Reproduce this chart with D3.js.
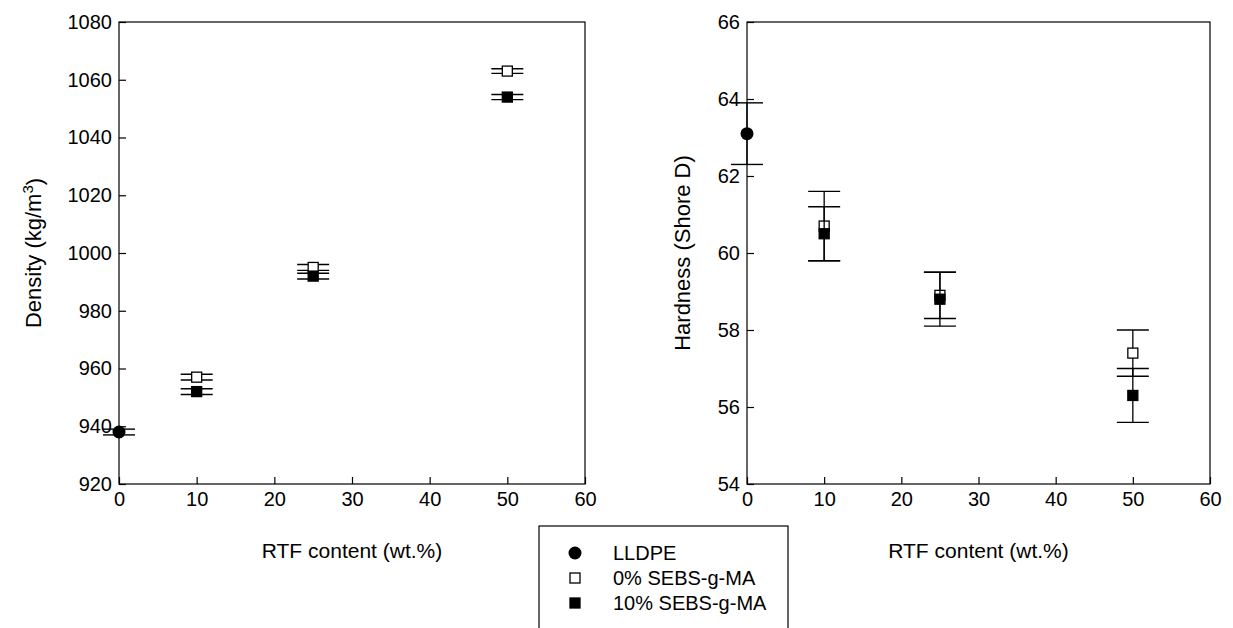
<!DOCTYPE html>
<html><head><meta charset="utf-8">
<script src="https://cdn.jsdelivr.net/npm/d3@7"></script>
<style>body{margin:0;background:#fff}svg{font-family:"Liberation Sans",Arial,sans-serif}</style>
</head><body>
<svg id="c" width="1233" height="628"></svg>
<script>
// Data
const seriesNames = ["LLDPE", "0% SEBS-g-MA", "10% SEBS-g-MA"];
const xTicks = [0, 10, 20, 30, 40, 50, 60];
const densityTicks = [920, 940, 960, 980, 1000, 1020, 1040, 1060, 1080];
const hardnessTicks = [54, 56, 58, 60, 62, 64, 66];

// density: [x, value, error]
const densityLLDPE = [[0, 938, 1.0]];
const density0 = [[10, 957, 1.0], [25, 995, 1.0], [50, 1063, 0.8]];
const density10 = [[10, 952, 1.0], [25, 992, 1.0], [50, 1054, 0.9]];

const hardnessLLDPE = [[0, 63.1, 0.8]];
const hardness0 = [[10, 60.7, 0.9], [25, 58.9, 0.6], [50, 57.4, 0.6]];
const hardness10 = [[10, 60.5, 0.7], [25, 58.8, 0.7], [50, 56.3, 0.7]];

const svg = d3.select("#c");
const FS = 20, TS = 21, YS = 22;

function panel(opts) {
  const {x0, x1, yTop, yBot, ydom, yticks, ylabel, ylabelX, sets} = opts;
  const x = d3.scaleLinear().domain([0, 60]).range([x0, x1]);
  const y = d3.scaleLinear().domain(ydom).range([yBot, yTop]);
  const g = svg.append("g");
  g.append("rect").attr("x", x0).attr("y", yTop).attr("width", x1 - x0).attr("height", yBot - yTop)
    .attr("fill", "none").attr("stroke", "#000").attr("stroke-width", 1.2);
  const xa = g.append("g").attr("transform", `translate(0,${yBot})`)
    .call(d3.axisBottom(x).tickValues(xTicks).tickFormat(d3.format("d")).tickSizeInner(-7).tickSizeOuter(0).tickPadding(8));
  const ya = g.append("g").attr("transform", `translate(${x0},0)`)
    .call(d3.axisLeft(y).tickValues(yticks).tickFormat(d3.format("d")).tickSizeInner(-7).tickSizeOuter(0).tickPadding(7));
  [xa, ya].forEach(a => {
    a.attr("font-size", FS).attr("font-family", "Liberation Sans, Arial, sans-serif");
    a.select(".domain").remove();
    a.selectAll("line").attr("stroke", "#000").attr("stroke-width", 1.2);
    a.selectAll("text").attr("fill", "#000");
  });
  g.append("text").attr("x", (x0 + x1) / 2).attr("y", 558).attr("text-anchor", "middle")
    .attr("font-size", TS).text("RTF content (wt.%)");
  const yl = g.append("text").attr("transform", `translate(${ylabelX},${(yTop + yBot) / 2}) rotate(-90)`)
    .attr("text-anchor", "middle").attr("font-size", YS);
  ylabel(yl);
  const capHalf = 16;
  sets.forEach(s => {
    const pg = g.append("g");
    s.data.forEach(d => {
      const cx = x(d[0]), hi = y(d[1] + d[2]), lo = y(d[1] - d[2]);
      pg.append("line").attr("x1", cx).attr("x2", cx).attr("y1", hi).attr("y2", lo).attr("stroke", "#000").attr("stroke-width", 1.3);
      [hi, lo].forEach(yy => pg.append("line").attr("x1", cx - capHalf).attr("x2", cx + capHalf)
        .attr("y1", yy).attr("y2", yy).attr("stroke", "#000").attr("stroke-width", 1.4));
    });
    s.data.forEach(d => drawMarker(pg, s.type, x(d[0]), y(d[1])));
  });
}

function drawMarker(g, type, cx, cy) {
  if (type === "circle") {
    g.append("circle").attr("cx", cx).attr("cy", cy).attr("r", 6.5).attr("fill", "#000");
  } else {
    const s = 10;
    g.append("rect").attr("x", cx - s / 2).attr("y", cy - s / 2).attr("width", s).attr("height", s)
      .attr("fill", type === "open" ? "#fff" : "#000").attr("stroke", "#000").attr("stroke-width", 1.3);
  }
}

panel({
  x0: 119, x1: 585, yTop: 22, yBot: 484, ydom: [920, 1080], yticks: densityTicks, ylabelX: 41,
  ylabel: t => { t.append("tspan").text("Density (kg/m");
    t.append("tspan").attr("font-size", 15).attr("dy", "-0.55em").text("3");
    t.append("tspan").attr("dy", "0.4em").text(")"); },
  sets: [{type: "circle", data: densityLLDPE}, {type: "open", data: density0}, {type: "filled", data: density10}]
});
panel({
  x0: 747, x1: 1210, yTop: 22, yBot: 484, ydom: [54, 66], yticks: hardnessTicks, ylabelX: 690,
  ylabel: t => t.text("Hardness (Shore D)"),
  sets: [{type: "circle", data: hardnessLLDPE}, {type: "open", data: hardness0}, {type: "filled", data: hardness10}]
});

const lg = svg.append("g");
lg.append("rect").attr("x", 539).attr("y", 526).attr("width", 249).attr("height", 120)
  .attr("fill", "#fff").attr("stroke", "#000").attr("stroke-width", 1.2);
const types = ["circle", "open", "filled"];
seriesNames.forEach((n, i) => {
  const cy = 553 + i * 25;
  drawMarker(lg, types[i], 575, cy);
  lg.append("text").attr("x", 613).attr("y", cy).attr("dy", "0.35em").attr("font-size", FS).text(n);
});
</script>
</body></html>
